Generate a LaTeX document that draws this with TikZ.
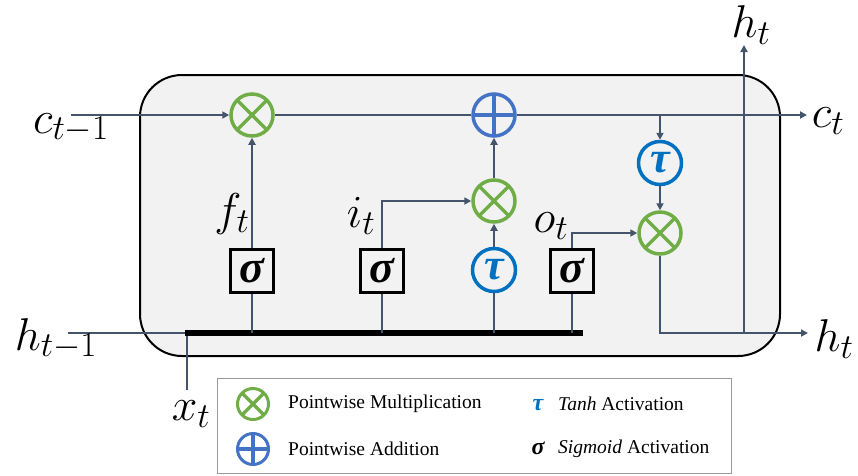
\RequirePackage{fix-cm}
\documentclass[tikz,border=0pt]{standalone}
\usepackage{amsmath}
\usepackage{fontspec}
\newfontfamily\legendfont{Liberation Serif}
\usetikzlibrary{arrows.meta,calc}
% larger subscripts for the state labels
\DeclareMathSizes{46}{46}{35}{28}

\definecolor{wire}{HTML}{44546A}
\definecolor{mulgreen}{HTML}{70AD47}
\definecolor{addblue}{HTML}{4472C4}
\definecolor{tanhblue}{HTML}{0070C0}
\definecolor{cellfill}{HTML}{F2F2F2}

% bold italic Greek letters for the activations
\newcommand{\actsig}{{\legendfont\bfseries\itshape σ}}
\newcommand{\acttau}{{\legendfont\bfseries\itshape τ}}

\tikzset{
  wireline/.style={draw=wire, line width=1.8pt},
  arr/.style={wireline, -{Triangle[length=7pt,width=7pt]}},
  mulop/.style={circle, draw=mulgreen, line width=3.5pt, minimum size=#1, inner sep=0pt,
    path picture={
      \draw[mulgreen, line width=3.5pt]
        ([shift={(45:0.5*#1)}]path picture bounding box.center) --
        ([shift={(225:0.5*#1)}]path picture bounding box.center)
        ([shift={(135:0.5*#1)}]path picture bounding box.center) --
        ([shift={(315:0.5*#1)}]path picture bounding box.center);}},
  mulop/.default=42pt,
  addop/.style={circle, draw=addblue, line width=3.5pt, minimum size=#1, inner sep=0pt,
    path picture={
      \draw[addblue, line width=3.5pt]
        ([shift={(90:0.5*#1)}]path picture bounding box.center) --
        ([shift={(270:0.5*#1)}]path picture bounding box.center)
        ([shift={(0:0.5*#1)}]path picture bounding box.center) --
        ([shift={(180:0.5*#1)}]path picture bounding box.center);}},
  addop/.default=42pt,
  tanhop/.style={circle, draw=tanhblue, line width=3.5pt, minimum size=43pt, inner sep=0pt,
    text=tanhblue, font=\fontsize{44}{44}\selectfont},
  sigbox/.style={draw=black, line width=3pt, minimum size=43pt, inner sep=0pt,
    font=\fontsize{46}{46}\selectfont},
  varlabel/.style={font=\fontsize{46}{50}\selectfont, inner sep=0pt},
  legtext/.style={font=\legendfont\fontsize{19.5}{22}\selectfont, anchor=west, inner sep=0pt},
}

\begin{document}
\begin{tikzpicture}[x=1pt,y=-1pt]
\useasboundingbox (0,0) rectangle (858,475);

% cell body
\draw[fill=cellfill, line width=2pt, rounded corners=42pt] (140,75) rectangle (780,356);

% operators
\node[mulop] (mf) at (252,115) {};
\node[addop] (add) at (494,115) {};
\node[mulop] (mi) at (494,201) {};
\node[tanhop] (tg) at (494,270) {\acttau};
\node[tanhop] (tc) at (660,163) {\acttau};
\node[mulop] (mo) at (660,233) {};
\node[sigbox] (sf) at (252,271) {\actsig};
\node[sigbox] (si) at (382,271) {\actsig};
\node[sigbox] (so) at (572,271) {\actsig};

% points on the wires
\coordinate (cin) at (71,115);
\coordinate (cout) at (807,115);
\coordinate (cbr) at (660,115);
\coordinate (hin) at (68,333);
\coordinate (barL) at (185,333);
\coordinate (barR) at (583,333);
\coordinate (xin) at (187,390);
\coordinate (hout) at (808,333);
\coordinate (hsplit) at (744,333);
\coordinate (hup) at (744,45);

% input bus
\draw[wireline] (hin) -- (barL);
\draw[wireline] (xin) -- (187,333);
\draw[line width=6pt, black] (barL) -- (barR);

% cell state path
\draw[arr] (cin) -- (mf);
\draw[wireline] (mf) -- (add);
\draw[arr] (add) -- (cout);
\draw[arr] (cbr) -- (tc);
\draw[arr] (tc) -- (mo);

% gates
\draw[wireline] (sf.south |- barL) -- (sf);
\draw[wireline] (si.south |- barL) -- (si);
\draw[wireline] (tg.south |- barL) -- (tg);
\draw[wireline] (so.south |- barL) -- (so);
\draw[arr] (sf) -- (mf);
\draw[arr] (si.north) |- (mi);
\draw[arr] (tg) -- (mi);
\draw[arr] (mi) -- (add);
\draw[arr] (so.north) |- (mo);

% hidden state output
\draw[arr] (mo) |- (hout);
\draw[arr] (hsplit) -- (hup);

% variable labels
\node[varlabel] (lc0) at (71,128) {$c_{t-1}$};
\node[varlabel] (lc1) at (828,121) {$c_t$};
\node[varlabel] (lh0) at (56,339) {$h_{t-1}$};
\node[varlabel] (lh1) at (834,339) {$h_t$};
\node[varlabel] (lh2) at (751,25) {$h_t$};
\node[varlabel] (lx) at (191,414) {$x_t$};
\node[varlabel] (lf) at (232,214) {$f_t$};
\node[varlabel] (li) at (361,216) {$i_t$};
\node[varlabel] (lo) at (551,226) {$o_t$};

% legend
\draw[draw=gray!80, line width=1pt] (217,378) rectangle (731,473);
\node[mulop=31pt, line width=3pt] (kmul) at (253,404) {};
\node[addop=31pt, line width=3pt] (kadd) at (253,449) {};
\node[legtext] (tmul) at (288,404) {Pointwise Multiplication};
\node[legtext] (tadd) at (288,449) {Pointwise Addition};
\node[text=tanhblue, font=\fontsize{24}{24}\selectfont, inner sep=0pt] (ktau) at (538,405) {\acttau};
\node[font=\fontsize{24}{24}\selectfont, inner sep=0pt] (ksig) at (538,448) {\actsig};
\node[legtext] (ttau) at (558,404) {\textit{Tanh} Activation};
\node[legtext] (tsig) at (558,449) {\textit{Sigmoid} Activation};
\end{tikzpicture}
\end{document}
